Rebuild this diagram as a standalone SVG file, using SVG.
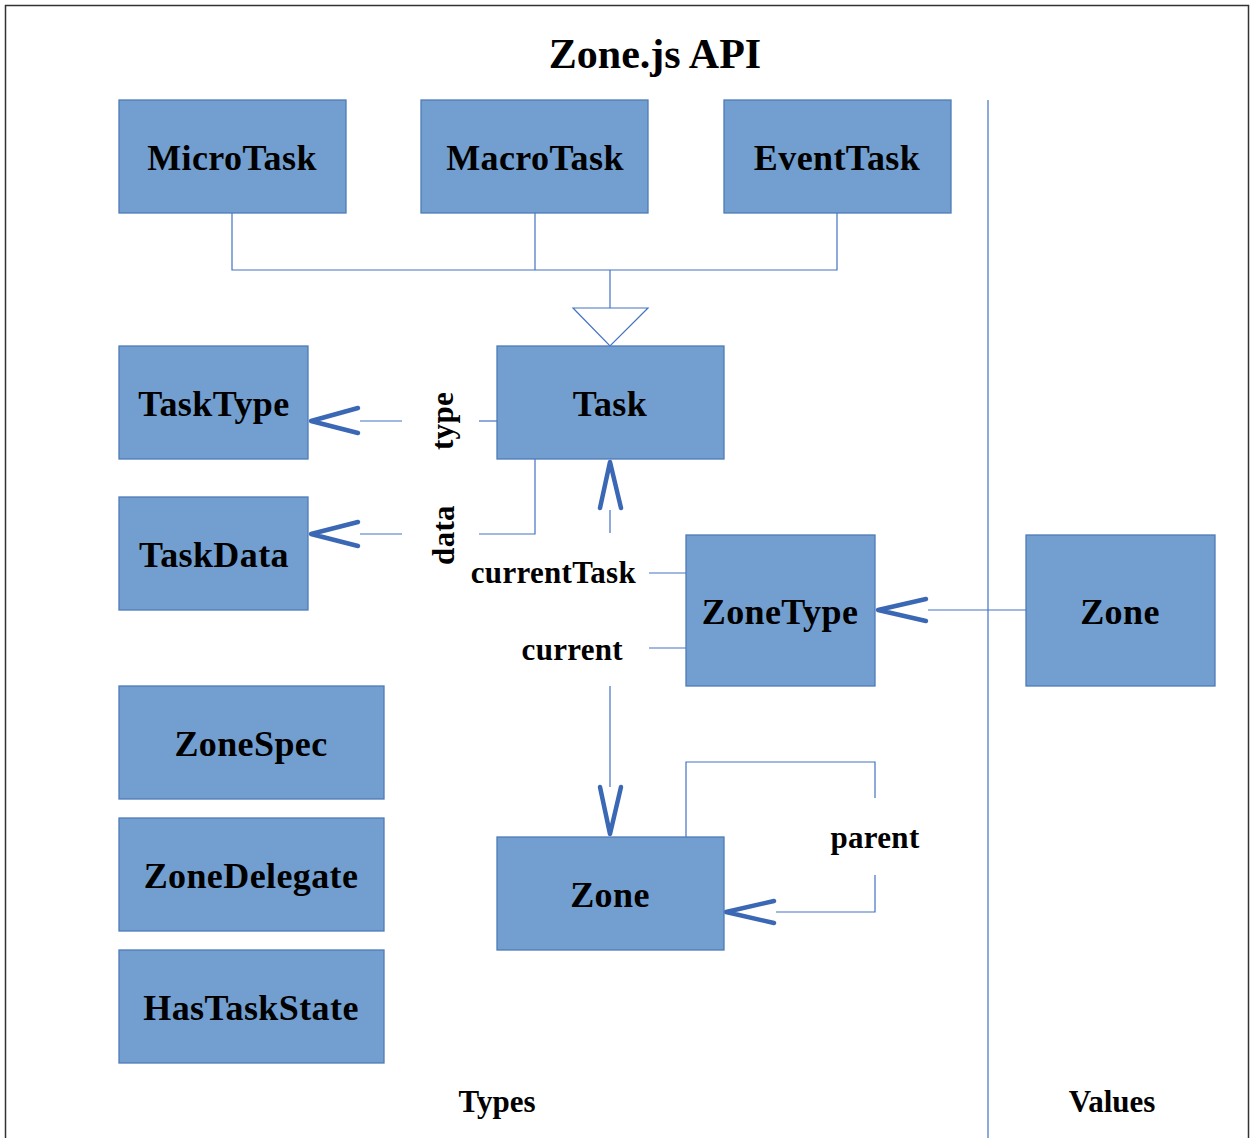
<svg xmlns="http://www.w3.org/2000/svg" width="1253" height="1138" viewBox="0 0 1253 1138">
<style>
.node rect{fill:#729FCF;stroke:#4F7CB8;stroke-width:1.3}
.lbl{font-family:"Liberation Serif",serif;font-weight:bold;fill:#000}
.nt{font-size:36px;text-anchor:middle;letter-spacing:0.4px}
.ct{font-size:31px;letter-spacing:0.3px}
.ln{fill:none;stroke:#4472C4;stroke-width:1.2}
.ah{fill:none;stroke:#3A68B4;stroke-width:4.5;stroke-linecap:round;stroke-linejoin:round}
</style>
<rect x="0" y="0" width="1253" height="1138" fill="#fff"/>
<rect x="5.5" y="5.5" width="1243" height="1140" fill="none" stroke="#333" stroke-width="1.5"/>
<text class="lbl" x="655" y="68" font-size="42" text-anchor="middle">Zone.js API</text>
<text class="lbl" x="497" y="1112" font-size="31" text-anchor="middle">Types</text>
<text class="lbl" x="1112" y="1112" font-size="31" text-anchor="middle">Values</text>

<g id="connectors">
  <line class="ln" x1="988" y1="100" x2="988" y2="1138"/>
  <polyline class="ln" points="232,213 232,270 837,270 837,213"/>
  <line class="ln" x1="535" y1="213" x2="535" y2="270"/>
  <line class="ln" x1="610" y1="270" x2="610" y2="308"/>
  <polygon points="573,308 648,308 610,346" fill="#fff" stroke="#4472C4" stroke-width="1.2"/>
  <!-- type -->
  <line class="ln" x1="497" y1="421" x2="479" y2="421"/>
  <line class="ln" x1="402" y1="421" x2="360" y2="421"/>
  <polyline class="ah" points="358,408 311,421 358,433"/>
  <text class="lbl ct" transform="translate(453,421) rotate(-90)" text-anchor="middle">type</text>
  <!-- data -->
  <polyline class="ln" points="535,459 535,534 479,534"/>
  <line class="ln" x1="402" y1="534" x2="360" y2="534"/>
  <polyline class="ah" points="358,522 311,534 358,546"/>
  <text class="lbl ct" transform="translate(454,535) rotate(-90)" text-anchor="middle">data</text>
  <!-- currentTask -->
  <line class="ln" x1="686" y1="573" x2="649" y2="573"/>
  <text class="lbl ct" x="636" y="583" text-anchor="end">currentTask</text>
  <line class="ln" x1="610" y1="533" x2="610" y2="510"/>
  <polyline class="ah" points="600,508 610,462 621,508"/>
  <!-- current -->
  <line class="ln" x1="686" y1="648" x2="649" y2="648"/>
  <text class="lbl ct" x="623" y="660" text-anchor="end">current</text>
  <line class="ln" x1="610" y1="686" x2="610" y2="787"/>
  <polyline class="ah" points="600,787 610,834 621,787"/>
  <!-- Zone value to ZoneType -->
  <line class="ln" x1="1026" y1="610" x2="928" y2="610"/>
  <polyline class="ah" points="926,599 878,610 926,621"/>
  <!-- parent -->
  <polyline class="ln" points="686,837 686,762 875,762 875,798"/>
  <polyline class="ln" points="875,875 875,912 776,912"/>
  <polyline class="ah" points="774,901 726,912 774,923"/>
  <text class="lbl ct" x="875" y="848" text-anchor="middle">parent</text>
</g>

<g id="MicroTask" class="node"><rect x="119" y="100" width="227" height="113"/><text class="lbl nt" x="232" y="170">MicroTask</text></g>
<g id="MacroTask" class="node"><rect x="421" y="100" width="227" height="113"/><text class="lbl nt" x="535" y="170">MacroTask</text></g>
<g id="EventTask" class="node"><rect x="724" y="100" width="227" height="113"/><text class="lbl nt" x="837" y="170">EventTask</text></g>
<g id="Task" class="node"><rect x="497" y="346" width="227" height="113"/><text class="lbl nt" x="610" y="416">Task</text></g>
<g id="TaskType" class="node"><rect x="119" y="346" width="189" height="113"/><text class="lbl nt" x="214" y="416">TaskType</text></g>
<g id="TaskData" class="node"><rect x="119" y="497" width="189" height="113"/><text class="lbl nt" x="214" y="567">TaskData</text></g>
<g id="ZoneType" class="node"><rect x="686" y="535" width="189" height="151"/><text class="lbl nt" x="780" y="624">ZoneType</text></g>
<g id="ZoneValue" class="node"><rect x="1026" y="535" width="189" height="151"/><text class="lbl nt" x="1120" y="624">Zone</text></g>
<g id="ZoneSpec" class="node"><rect x="119" y="686" width="265" height="113"/><text class="lbl nt" x="251" y="756">ZoneSpec</text></g>
<g id="ZoneDelegate" class="node"><rect x="119" y="818" width="265" height="113"/><text class="lbl nt" x="251" y="888">ZoneDelegate</text></g>
<g id="HasTaskState" class="node"><rect x="119" y="950" width="265" height="113"/><text class="lbl nt" x="251" y="1020">HasTaskState</text></g>
<g id="Zone" class="node"><rect x="497" y="837" width="227" height="113"/><text class="lbl nt" x="610" y="907">Zone</text></g>
</svg>
